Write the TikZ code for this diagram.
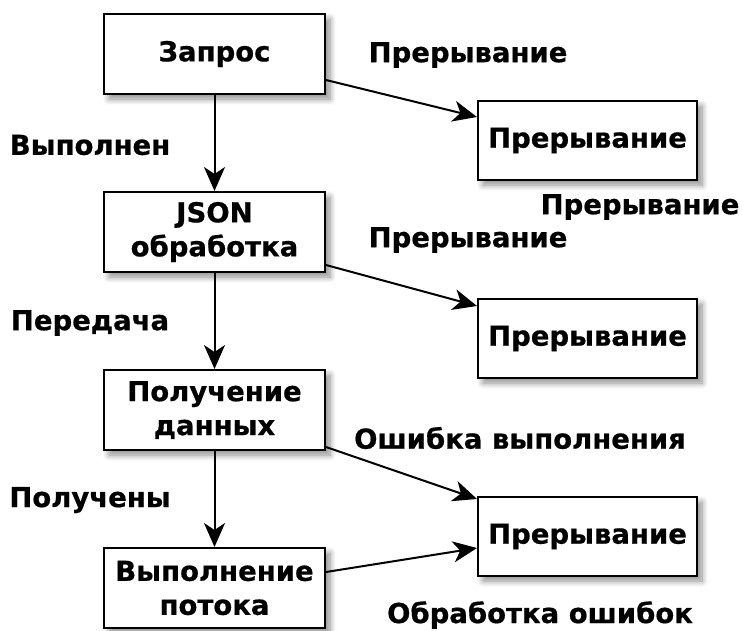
\documentclass[tikz,border=0pt]{standalone}
\usepackage{fontspec}
\setmainfont{DejaVu Sans}[BoldFeatures={FakeBold=0.6}]
\usetikzlibrary{arrows.meta,shadows.blur}
\begin{document}
\begin{tikzpicture}[x=1pt,y=-1pt,
  box/.style={draw,line width=2pt,fill=white,minimum width=221pt,minimum height=80pt,
    align=center,font=\fontsize{27.5}{34}\selectfont\bfseries,
    blur shadow={shadow xshift=5pt,shadow yshift=-5pt,shadow blur steps=8,shadow blur radius=6pt,shadow opacity=45}},
  rbox/.style={box,minimum width=219pt,minimum height=79pt},
  lbl/.style={font=\fontsize{27.5}{34}\selectfont\bfseries},
  arr/.style={line width=2pt,-{Stealth[length=24pt,width=21pt,inset=7pt]}}]
\useasboundingbox (0,0) rectangle (743,630);
\node[box] (q) at (214.5,54) {Запрос};
\node[box] (j) at (214.5,232) {JSON\\обработка};
\node[box] (p) at (214.5,410) {Получение\\данных};
\node[box] (v) at (214.5,588) {Выполнение\\потока};
\node[rbox] (r1) at (587.5,140.5) {Прерывание};
\node[rbox] (r2) at (587.5,338.5) {Прерывание};
\node[rbox] (r3) at (587.5,536.5) {Прерывание};
\draw[arr] (q) -- (j);
\draw[arr] (j) -- (p);
\draw[arr] (p) -- (v);
\draw[arr] (q.east |- 0,80) -- (r1.west |- 0,117);
\draw[arr] (j.east |- 0,265) -- (r2.west |- 0,306);
\draw[arr] (p.east |- 0,447) -- (r3.west |- 0,499);
\draw[arr] (v.east |- 0,572) -- (r3.west |- 0,548);
\node[lbl] (l1) at (468,55) {Прерывание};
\node[lbl] (l2) at (90,145) {Выполнен};
\node[lbl] (l3) at (640,207) {Прерывание};
\node[lbl] (l4) at (468,240) {Прерывание};
\node[lbl] (l5) at (90,323) {Передача};
\node[lbl] (l6) at (520,438) {Ошибка выполнения};
\node[lbl] (l7) at (90,500) {Получены};
\node[lbl] (l8) at (540,615) {Обработка ошибок};
\end{tikzpicture}
\end{document}
